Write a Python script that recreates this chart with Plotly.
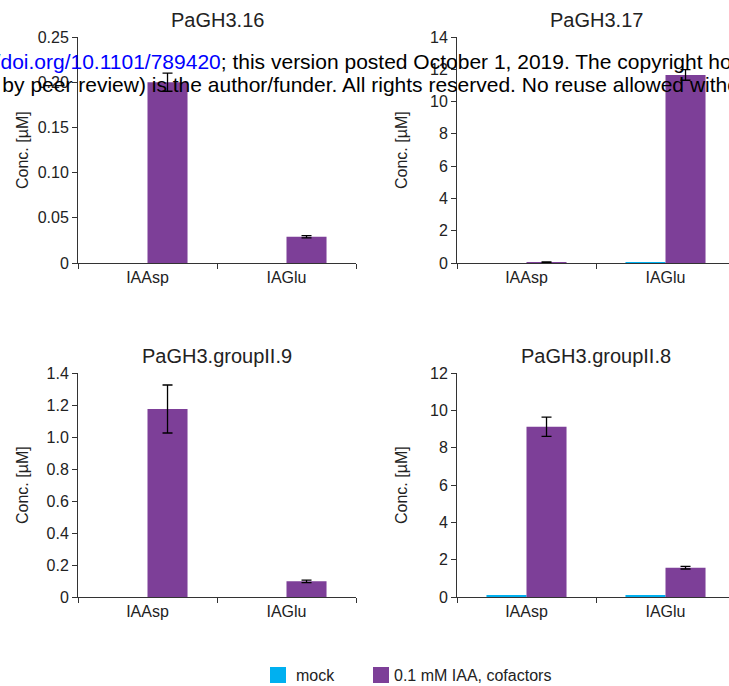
import plotly.graph_objects as go

# ---------------- data ----------------
categories = ["IAAsp", "IAGlu"]
panel_titles = ["PaGH3.16", "PaGH3.17", "PaGH3.groupII.9", "PaGH3.groupII.8"]
series_names = ["mock", "0.1 mM IAA, cofactors"]

mock_16 = [0.0, 0.0]
treat_16 = [0.200, 0.029]
err_16 = [0.010, 0.0012]

mock_17 = [0.0, 0.06]
treat_17 = [0.05, 11.65]
err_17 = [0.02, 0.33]

mock_g9 = [0.0, 0.0]
treat_g9 = [1.175, 0.098]
err_g9 = [0.15, 0.008]

mock_g8 = [0.06, 0.06]
treat_g8 = [9.12, 1.57]
err_g8 = [0.52, 0.07]

yticks_16 = [0, 0.05, 0.10, 0.15, 0.20, 0.25]
ytext_16 = ["0", "0.05", "0.10", "0.15", "0.20", "0.25"]
yticks_17 = [0, 2, 4, 6, 8, 10, 12, 14]
ytext_17 = ["0", "2", "4", "6", "8", "10", "12", "14"]
yticks_g9 = [0, 0.2, 0.4, 0.6, 0.8, 1.0, 1.2, 1.4]
ytext_g9 = ["0", "0.2", "0.4", "0.6", "0.8", "1.0", "1.2", "1.4"]
yticks_g8 = [0, 2, 4, 6, 8, 10, 12]
ytext_g8 = ["0", "2", "4", "6", "8", "10", "12"]

y_title = "Conc. [µM]"
watermark_pre = "bioRxiv preprint doi: "
watermark_link = "https://doi.org/10.1101/789420"
watermark_1 = ("; this version posted October 1, 2019. The copyright holder for this "
               "preprint (which was not")
watermark_2 = ("certified by peer review) is the author/funder. All rights reserved. "
               "No reuse allowed without permission.")

# ---------------- styling ----------------
W, H = 729, 686
FONT = "Liberation Sans, Arial, Helvetica, sans-serif"
C_MOCK = "#00B0F0"
C_TREAT = "#7D3F98"
AXC = "#333333"
TXT = "#222222"


def px_x(v):
    return v / W


def px_y(v):
    return 1 - v / H


panels = [
    dict(mock=mock_16, treat=treat_16, err=err_16, tv=yticks_16, tt=ytext_16,
         ymax=0.25, x0=78, x1=356, ytop=37, ybot=263),
    dict(mock=mock_17, treat=treat_17, err=err_17, tv=yticks_17, tt=ytext_17,
         ymax=14, x0=457, x1=729, ytop=37, ybot=263),
    dict(mock=mock_g9, treat=treat_g9, err=err_g9, tv=yticks_g9, tt=ytext_g9,
         ymax=1.4, x0=78, x1=356, ytop=373, ybot=597),
    dict(mock=mock_g8, treat=treat_g8, err=err_g8, tv=yticks_g8, tt=ytext_g8,
         ymax=12, x0=457, x1=729, ytop=373, ybot=597),
]
CAT_W = 139.0

fig = go.Figure()
layout_axes = {}
annotations = []

for i, p in enumerate(panels):
    n = "" if i == 0 else str(i + 1)
    xa, ya = "x" + n, "y" + n
    fig.add_trace(go.Bar(x=categories, y=p["mock"], name=series_names[0],
                         marker=dict(color=C_MOCK, line=dict(width=0)),
                         xaxis=xa, yaxis=ya, showlegend=False))
    fig.add_trace(go.Bar(x=categories, y=p["treat"], name=series_names[1],
                         marker=dict(color=C_TREAT, line=dict(width=0)),
                         error_y=dict(type="data", array=p["err"], visible=True,
                                      color="black", thickness=1.3, width=5),
                         xaxis=xa, yaxis=ya, showlegend=False))
    xr = [-0.5, -0.5 + (p["x1"] - p["x0"]) / CAT_W]
    layout_axes["xaxis" + n] = dict(
        domain=[px_x(p["x0"]), px_x(p["x1"])], anchor=ya, type="category",
        range=xr, tickson="boundaries", ticks="outside", ticklen=5,
        tickcolor=AXC, showline=True, linecolor=AXC, linewidth=1,
        showgrid=False, zeroline=False, automargin=False,
        tickfont=dict(family=FONT, size=16, color=TXT), fixedrange=True)
    layout_axes["yaxis" + n] = dict(
        domain=[px_y(p["ybot"]), px_y(p["ytop"])], anchor=xa,
        range=[0, p["ymax"]], tickvals=p["tv"], ticktext=p["tt"],
        ticks="outside", ticklen=5, tickcolor=AXC, showline=True,
        linecolor=AXC, linewidth=1, showgrid=False, zeroline=False,
        automargin=False,
        tickfont=dict(family=FONT, size=16, color=TXT), fixedrange=True)
    cx = (p["x0"] + p["x0"] + 2 * CAT_W) / 2
    annotations.append(dict(
        text=panel_titles[i], xref="paper", yref="paper",
        x=px_x(cx), y=px_y(p["ytop"] - 17), xanchor="center", yanchor="middle",
        showarrow=False, font=dict(family=FONT, size=20, color=TXT)))
    annotations.append(dict(
        text=y_title, xref="paper", yref="paper", textangle=-90,
        x=px_x(p["x0"] - 56), y=px_y((p["ytop"] + p["ybot"]) / 2),
        xanchor="center", yanchor="middle", showarrow=False,
        font=dict(family=FONT, size=16, color=TXT)))

shapes = [
    dict(type="rect", xref="paper", yref="paper", x0=px_x(270), x1=px_x(286),
         y0=px_y(683), y1=px_y(667), fillcolor=C_MOCK, line=dict(width=0)),
    dict(type="rect", xref="paper", yref="paper", x0=px_x(373), x1=px_x(389),
         y0=px_y(683), y1=px_y(667), fillcolor=C_TREAT, line=dict(width=0)),
]
annotations.append(dict(text=series_names[0], xref="paper", yref="paper",
                        x=px_x(294), y=px_y(675), xanchor="left", yanchor="middle",
                        showarrow=False, font=dict(family=FONT, size=16, color=TXT)))
annotations.append(dict(text=series_names[1], xref="paper", yref="paper",
                        x=px_x(392), y=px_y(675), xanchor="left", yanchor="middle",
                        showarrow=False, font=dict(family=FONT, size=16, color=TXT)))

# watermark overlay: two centred lines (page was cropped on both sides)
annotations.append(dict(
    text=watermark_pre + "<span style='color:#0000FF'>" + watermark_link + "</span>"
    + watermark_1,
    xref="paper", yref="paper", x=px_x(401), y=px_y(62), xanchor="center",
    yanchor="middle", showarrow=False, font=dict(family=FONT, size=21, color="black")))
annotations.append(dict(
    text=watermark_2, xref="paper", yref="paper", x=px_x(396), y=px_y(84),
    xanchor="center", yanchor="middle", showarrow=False,
    font=dict(family=FONT, size=21, color="black")))

fig.update_layout(
    width=W, height=H, margin=dict(l=0, r=0, t=0, b=0, pad=0, autoexpand=False),
    paper_bgcolor="white", plot_bgcolor="white",
    barmode="group", bargap=0.424, bargroupgap=0,
    showlegend=False, annotations=annotations, shapes=shapes,
    font=dict(family=FONT, color=TXT),
    **layout_axes)

fig.write_html("out.html", config={"displayModeBar": False},
               post_script="document.body.style.margin='0';"
                           "document.body.style.overflow='hidden';")
